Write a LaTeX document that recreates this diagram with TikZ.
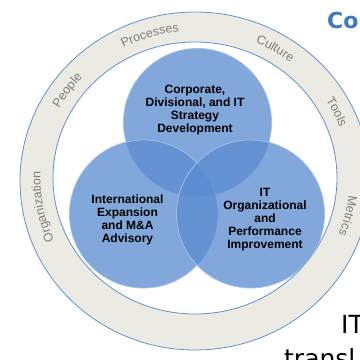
\documentclass[tikz,border=0pt]{standalone}
\usepackage{fontspec}
\setmainfont{Liberation Sans}
\newfontfamily\verdanalike{DejaVu Sans}
\usetikzlibrary{positioning,decorations.text}
\definecolor{vennblue}{RGB}{91,140,208}
\definecolor{vennrim}{RGB}{160,190,232}
\definecolor{ringfill}{RGB}{236,235,227}
\definecolor{ringline}{RGB}{95,145,210}
\definecolor{ringtext}{RGB}{125,125,125}
\definecolor{titleblue}{RGB}{60,120,195}
\newcommand{\ringfont}{\fontsize{12.5}{12.5}\selectfont}
\tikzset{
    venn/.style={circle, minimum size=148pt, fill=vennblue, fill opacity=0.77, draw=vennrim, line width=0.8pt},
    venntext/.style={font=\bfseries\fontsize{12}{13}\selectfont, align=center, inner sep=0pt},
    ringedge/.style={draw=ringline, line width=0.8pt},
    ringlabel/.style={decorate, decoration={text along path, text align=center, text color=ringtext, text={|\ringfont|#1}}},
    slidetext/.style={anchor=base west, inner sep=0pt}
}
\begin{document}
\begin{tikzpicture}[x=1pt, y=1pt]
                \useasboundingbox (0,0) rectangle (360,360);
                \clip (0,0) rectangle (360,360);
                \coordinate (outerc) at (195,179);
                \coordinate (innerc) at (195,182);
                \coordinate (ringc) at (195,180.5);
                
                \fill[ringfill, even odd rule] (outerc) ellipse [x radius=175, y radius=169] (innerc) ellipse [x radius=142, y radius=136];
                \draw[ringedge] (outerc) ellipse [x radius=175, y radius=169];
                \draw[ringedge] (innerc) ellipse [x radius=142, y radius=136];
                
                \path[ringlabel=Organization, shift={(ringc)}] (230.5:154.5 and 148.5) arc[start angle=230.5, end angle=150.5, x radius=154.5, y radius=148.5];
                \path[ringlabel=People, shift={(ringc)}] (184.5:154.5 and 148.5) arc[start angle=184.5, end angle=104.5, x radius=154.5, y radius=148.5];
                \path[ringlabel=Processes, shift={(ringc)}] (147:154.5 and 148.5) arc[start angle=147, end angle=67, x radius=154.5, y radius=148.5];
                \path[ringlabel=Culture, shift={(ringc)}] (99:154.5 and 148.5) arc[start angle=99, end angle=19, x radius=154.5, y radius=148.5];
                \path[ringlabel=Tools, shift={(ringc)}] (66:154.5 and 148.5) arc[start angle=66, end angle=-14, x radius=154.5, y radius=148.5];
                \path[ringlabel=Metrics, shift={(ringc)}] (26.4:154.5 and 148.5) arc[start angle=26.4, end angle=-53.6, x radius=154.5, y radius=148.5];
                
                \node[venn] (strategy) at (197.5,237.5) {};
                \node[venn] (expansion) at (143.5,146) {};
                \node[venn] (improvement) at (250.5,146) {};
                
                \node[venntext, xshift=-2.5pt, yshift=12.5pt] (strategytext) at (strategy) {Corporate,\\Divisional, and IT\\Strategy\\Development};
                \node[venntext, xshift=-16pt, yshift=-6.3pt] (expansiontext) at (expansion) {International\\Expansion\\and M\&A\\Advisory};
                \node[venntext, xshift=14.5pt, yshift=-5.9pt] (improvementtext) at (improvement) {IT\\Organizational\\and\\Performance\\Improvement};
                
                \node[slidetext, font=\verdanalike\bfseries\fontsize{22}{22}\selectfont, text=titleblue] (title) at (327,332) {Co};
                \node[slidetext, font=\verdanalike\fontsize{25}{25}\selectfont] (bodyit) at (341,27) {IT};
                \node[slidetext, font=\verdanalike\fontsize{25}{25}\selectfont] (bodytransl) at (284,-8) {transl};
            \end{tikzpicture}
\end{document}
